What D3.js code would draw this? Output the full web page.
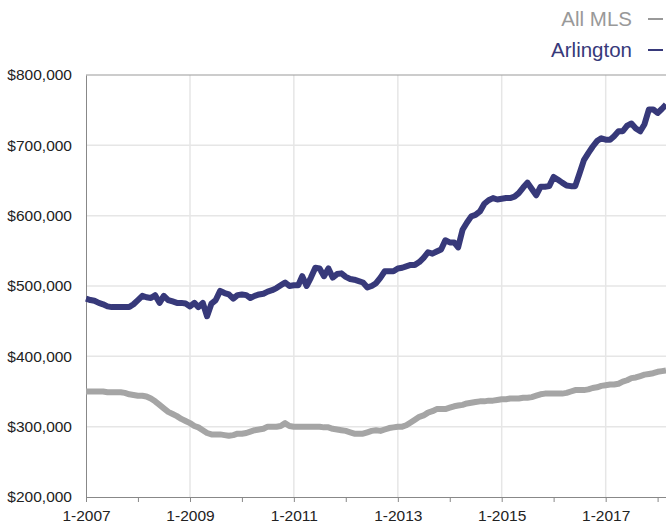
<!DOCTYPE html>
<html>
<head>
<meta charset="utf-8">
<script src="https://cdn.jsdelivr.net/npm/d3@7"></script>
<style>
  body { margin: 0; background: #fff; }
  svg { display: block; font-family: "Liberation Sans", Arial, Helvetica, sans-serif; }
</style>
</head>
<body>
<div id="chart"></div>
<script>
// monthly median prices, in $1000, Jan 2007 .. Mar 2018
const firstMonth = new Date(2007, 0, 1);

const arlington = [
    482, 480, 479, 476, 474, 471, 470, 470, 470, 470, 470, 474,
    480, 486, 484, 483, 487, 476, 486, 480, 478, 476, 476, 475,
    471, 476, 470, 476, 457, 475, 480, 493, 490, 488, 482, 487,
    488, 487, 483, 486, 488, 489, 492, 494, 497, 501, 505, 500,
    501, 501, 514, 500, 512, 526, 525, 514, 525, 512, 517, 518,
    513, 510, 509, 507, 505, 498, 500, 504, 512, 521, 521, 521,
    525, 526, 528, 530, 530, 534, 540, 548, 546, 549, 552, 565,
    562, 562, 555, 580, 590, 599, 601, 606, 617, 622, 625, 623,
    624, 625, 625, 627, 632, 640, 647, 638, 629, 641, 641, 642,
    655, 651, 647, 643, 642, 642, 660, 679, 689, 698, 706, 710,
    708, 708, 713, 720, 720, 728, 731, 724, 720, 730, 751, 751,
    746, 752, 758
];

const allMls = [
    350, 350, 350, 350, 350, 349, 349, 349, 349, 348, 346, 345,
    344, 344, 343, 340, 336, 331, 326, 321, 318, 315, 311, 308,
    305, 301, 299, 295, 291, 289, 289, 289, 288, 287, 288, 290,
    290, 291, 293, 295, 296, 297, 300, 300, 300, 301, 305, 301,
    300, 300, 300, 300, 300, 300, 300, 299, 299, 297, 296, 295,
    294, 292, 290, 290, 290, 292, 294, 295, 294, 296, 298, 299,
    300, 300, 302, 306, 310, 314, 316, 320, 322, 325, 325, 325,
    327, 329, 330, 331, 333, 334, 335, 336, 336, 337, 337, 338,
    339, 339, 340, 340, 340, 341, 341, 342, 344, 346, 347, 347,
    347, 347, 347, 348, 350, 352, 352, 352, 353, 355, 356, 358,
    359, 360, 360, 361, 364, 366, 369, 370, 372, 374, 375, 376,
    378, 379, 380
];

const yTicks = [200, 300, 400, 500, 600, 700, 800];
const labelYears = [2007, 2009, 2011, 2013, 2015, 2017];

const seriesNames = ["All MLS", "Arlington"];
const seriesColors = ["#a5a5a5", "#37397a"];

const width = 666, height = 527;
const margin = {top: 75, right: 0, bottom: 30, left: 86};

const svg = d3.select("#chart")
    .append("svg")
    .attr("width", width)
    .attr("height", height);

const x = d3.scaleTime()
    .domain([firstMonth, new Date(2018, 2, 1)])
    .range([margin.left, width - margin.right]);

const y = d3.scaleLinear()
    .domain([200, 800])
    .range([height - margin.bottom, margin.top]);

const months = arlington.map((d, i) => d3.timeMonth.offset(firstMonth, i));

// grid
svg.append("g")
    .selectAll("line")
    .data(yTicks.slice(1, -1))
    .join("line")
    .attr("x1", margin.left)
    .attr("x2", width)
    .attr("y1", d => y(d))
    .attr("y2", d => y(d))
    .attr("stroke", "#e6e6e6")
    .attr("stroke-width", 1.5);

svg.append("g")
    .selectAll("line")
    .data(labelYears.slice(1))
    .join("line")
    .attr("x1", d => x(new Date(d, 0, 1)))
    .attr("x2", d => x(new Date(d, 0, 1)))
    .attr("y1", margin.top)
    .attr("y2", height - margin.bottom)
    .attr("stroke", "#e6e6e6")
    .attr("stroke-width", 1.5);

// top border
svg.append("line")
    .attr("x1", margin.left).attr("x2", width)
    .attr("y1", y(800)).attr("y2", y(800))
    .attr("stroke", "#999").attr("stroke-width", 1);

// axes
function yAxis(g) {
    g.attr("transform", `translate(${margin.left},0)`)
        .call(d3.axisLeft(y).tickValues(yTicks).tickSize(0).tickPadding(14)
            .tickFormat(d => "$" + d3.format(",")(d * 1000)))
        .attr("font-size", "15.5px")
        .attr("font-family", null);
    g.select(".domain").attr("stroke", "#888");
    g.selectAll("text").attr("fill", "#222");
}
function xAxis(g) {
    g.attr("transform", `translate(0,${height - margin.bottom})`)
        .call(d3.axisBottom(x).ticks(d3.timeYear.every(1)).tickSize(5).tickPadding(8)
            .tickFormat(d => labelYears.includes(d.getFullYear()) ? "1-" + d.getFullYear() : ""))
        .attr("font-size", "15.5px")
        .attr("font-family", null);
    g.select(".domain").attr("stroke", "#888");
    g.selectAll(".tick line").attr("stroke", "#888");
    g.selectAll("text").attr("fill", "#222");
}
svg.append("g").call(xAxis);
svg.append("g").call(yAxis);

// lines
const line = d3.line()
    .x((d, i) => x(months[i]))
    .y(d => y(d));

svg.append("g")
    .selectAll("path")
    .data([allMls, arlington])
    .join("path")
    .attr("d", d => line(d))
    .attr("fill", "none")
    .attr("stroke", (d, i) => seriesColors[i])
    .attr("stroke-width", 6)
    .attr("stroke-linejoin", "round");

// legend
const legend = svg.append("g")
    .selectAll("g")
    .data(seriesNames)
    .join("g")
    .attr("transform", (d, i) => `translate(0,${26 + i * 31})`);

legend.append("text")
    .attr("x", 632)
    .attr("text-anchor", "end")
    .attr("font-size", "20.5px")
    .attr("fill", (d, i) => i === 0 ? "#999" : seriesColors[1])
    .text(d => d);

legend.append("line")
    .attr("x1", 648).attr("x2", 663)
    .attr("y1", -7).attr("y2", -7)
    .attr("stroke", (d, i) => i === 0 ? "#999" : seriesColors[1])
    .attr("stroke-width", 2);
</script>
</body>
</html>
